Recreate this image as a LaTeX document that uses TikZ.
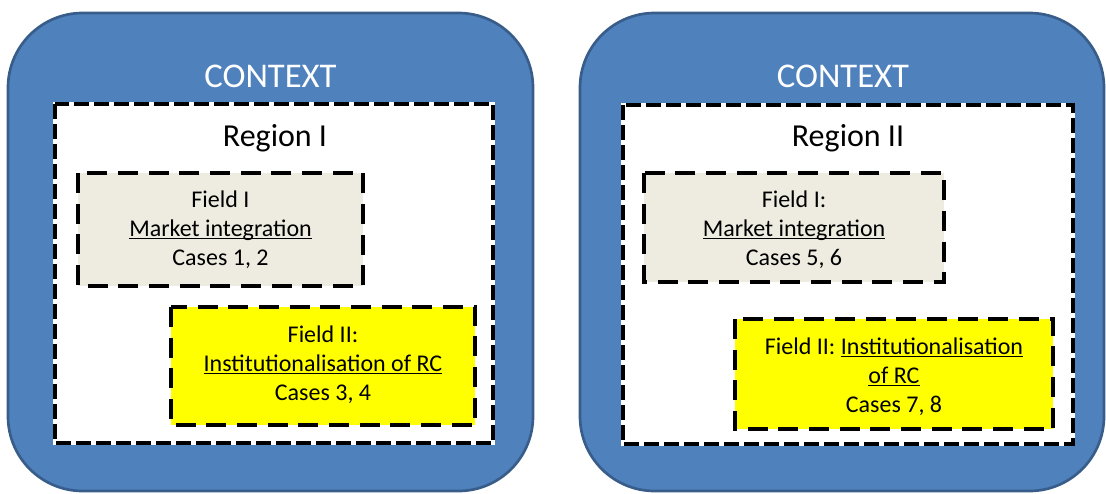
\documentclass[tikz,border=0pt]{standalone}
\usepackage{fontspec}
\setmainfont{Carlito}
\usepackage{tikz}
\usepackage{xcolor}
\definecolor{ctxblue}{RGB}{79,129,189}
\definecolor{ctxedge}{RGB}{56,93,138}
\definecolor{fieldgray}{RGB}{238,236,225}
\definecolor{fieldyellow}{RGB}{255,255,0}
\tikzstyle{contextbox} = [fill=ctxblue, draw=ctxedge, line width=2pt, rounded corners=56pt]
\tikzstyle{regionbox} = [preaction={draw=white, fill=white, line width=3pt}, draw=black, line width=3pt, dash pattern=on 11pt off 4pt]
\tikzstyle{fieldbox} = [draw=black, line width=3.4pt, dash pattern=on 15pt off 8pt]
\tikzstyle{contexttext} = [anchor=base, text=white, font=\fontsize{26}{30}\selectfont]
\tikzstyle{regiontext} = [anchor=base, font=\fontsize{24}{28}\selectfont]
\tikzstyle{fieldtext} = [anchor=base, align=center, font=\fontsize{18}{21.75}\selectfont]
\newcommand{\fieldul}[1]{\setbox0=\hbox{#1}\rlap{\rule[-2.4pt]{\wd0}{1.1pt}}\box0}

\begin{document}
\begin{tikzpicture}[x=0.75pt, y=-0.75pt]
\useasboundingbox (0,0) rectangle (1106,493);
% Context panels
\draw[contextbox] (8,13) rectangle (533,491);
\draw[contextbox] (580,13) rectangle (1104,491);
\node[contexttext] (ctxA) at (270.5,87) {CONTEXT};
\node[contexttext] (ctxB) at (843,87) {CONTEXT};

% Regions
\draw[regionbox] (55,104) rectangle (493,443);
\draw[regionbox] (623,105) rectangle (1073,444);
\node[regiontext] (regA) at (275,146) {Region I};
\node[regiontext] (regB) at (848,146) {Region II};

% Fields, region I (base = last line)
\draw[fieldbox, fill=fieldgray] (78,173) rectangle (363,286);
\draw[fieldbox, fill=fieldyellow] (171,307) rectangle (475,425);
\node[fieldtext] (fieldAI) at (220.5,265) {Field I\\\fieldul{Market integration}\\Cases 1, 2};
\node[fieldtext] (fieldAII) at (323,400) {Field II:\\\fieldul{Institutionalisation of RC}\\Cases 3, 4};

% Fields, region II
\draw[fieldbox, fill=fieldgray] (644,173) rectangle (944,282);
\draw[fieldbox, fill=fieldyellow] (735,319) rectangle (1053,429);
\node[fieldtext] (fieldBI) at (794,265) {Field I:\\\fieldul{Market integration}\\Cases 5, 6};
\node[fieldtext] (fieldBII) at (894,412) {Field II: \fieldul{Institutionalisation}\\\fieldul{of RC}\\Cases 7, 8};
\end{tikzpicture}
\end{document}
